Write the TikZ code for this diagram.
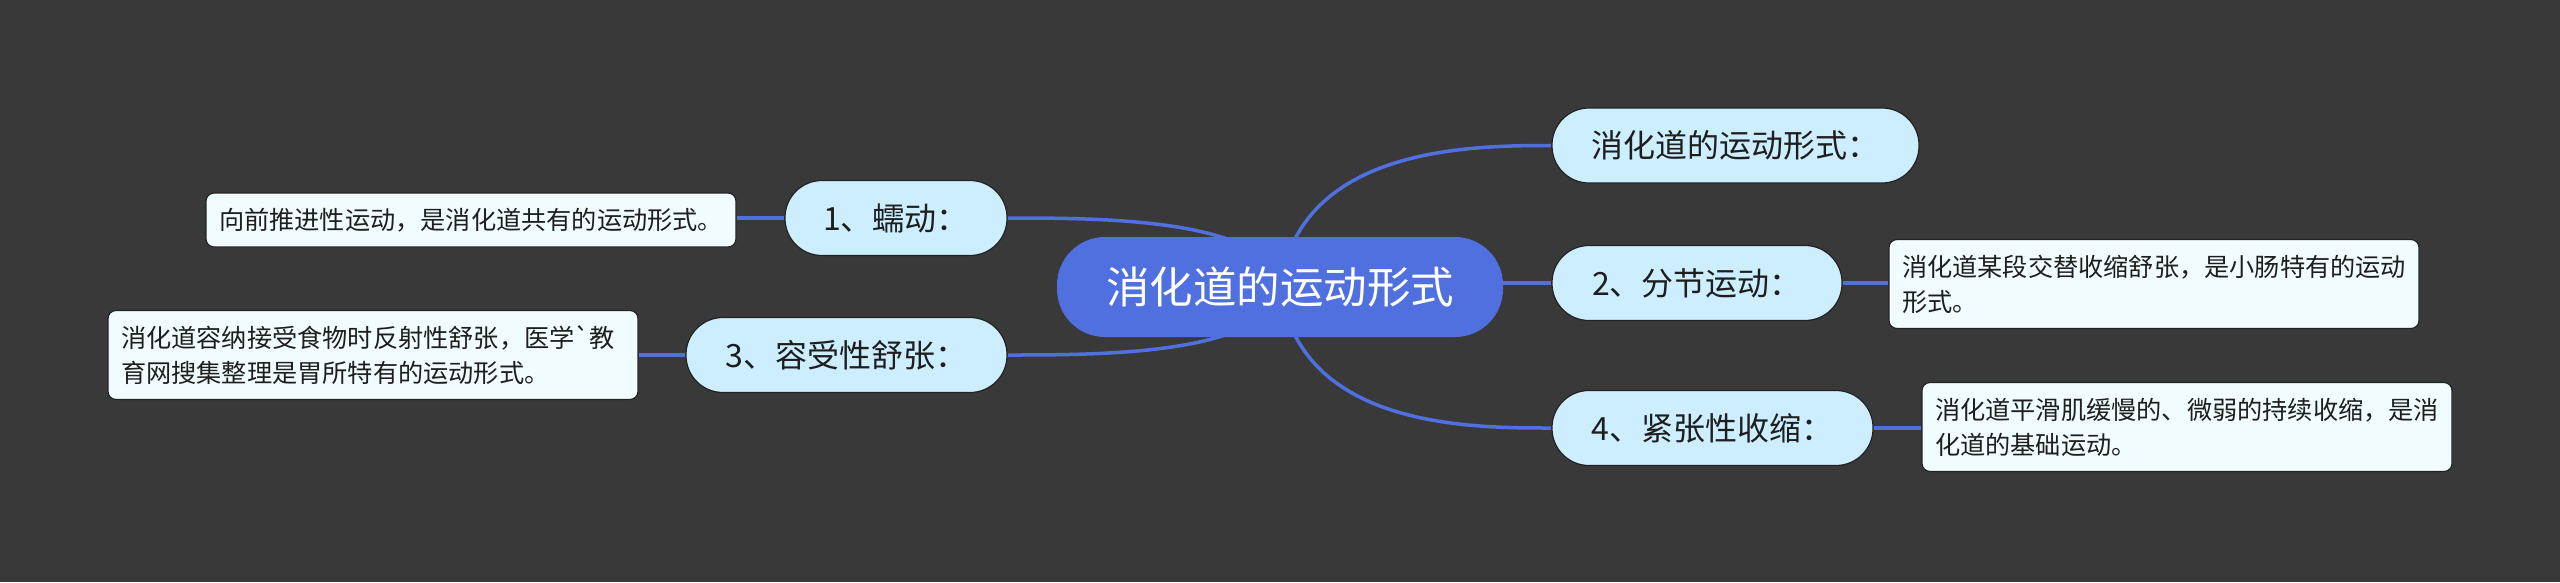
\documentclass[tikz,border=0pt]{standalone}
\usepackage{fontspec}
\newfontfamily\cjk{Noto Sans CJK SC}[Ligatures=TeXOff]
\usetikzlibrary{backgrounds}
\definecolor{bg}{RGB}{58,57,58}
\definecolor{rootfill}{RGB}{80,112,224}
\definecolor{linec}{RGB}{80,112,224}
\definecolor{subfill}{RGB}{204,238,255}
\definecolor{leaffill}{RGB}{240,252,255}
\definecolor{edgec}{RGB}{34,34,34}
\definecolor{txt}{RGB}{30,30,30}
\begin{document}
\begin{tikzpicture}[x=1pt,y=-1pt,
 rootnode/.style={fill=rootfill, rounded corners=48pt, minimum height=100pt, inner sep=0pt, text=white, font=\cjk\fontsize{43.5}{50}\selectfont},
 subnode/.style={fill=subfill, draw=edgec, line width=1.2pt, rounded corners=37pt, minimum height=75pt, inner sep=0pt, text=txt, font=\cjk\fontsize{32}{36}\selectfont},
 leafnode/.style={fill=leaffill, draw=edgec, line width=1.2pt, rounded corners=8pt, inner xsep=13pt, inner ysep=0pt, text width=504pt, align=left, text=txt, font=\cjk\fontsize{25.2}{35}\selectfont},
 link/.style={draw=linec, line width=3.5pt}]
\useasboundingbox (0,0) rectangle (2560,582);

\node[rootnode, minimum width=446pt] (root) at (1280,287) {消化道的运动形式};

\node[subnode, minimum width=367pt] (s0) at (1735.5,145.5) {消化道的运动形式：};
\node[subnode, minimum width=290pt] (s2) at (1697,283) {2、分节运动：};
\node[subnode, minimum width=321pt] (s4) at (1712.5,428) {4、紧张性收缩：};
\node[subnode, minimum width=222pt] (s1) at (896,218) {1、蠕动：};
\node[subnode, minimum width=321pt] (s3) at (846.5,355) {3、容受性舒张：};

\node[leafnode, minimum height=54pt] (l1) at (471,220) {向前推进性运动，是消化道共有的运动形式。};
\node[leafnode, minimum height=89pt] (l2) at (2154,284) {消化道某段交替收缩舒张，是小肠特有的运动\\形式。};
\node[leafnode, minimum height=89pt] (l3) at (373,355) {消化道容纳接受食物时反射性舒张，医学`教\\育网搜集整理是胃所特有的运动形式。};
\node[leafnode, minimum height=89pt] (l4) at (2187,427) {消化道平滑肌缓慢的、微弱的持续收缩，是消\\化道的基础运动。};

\begin{pgfonlayer}{background}
\fill[bg] (0,0) rectangle (2560,582);
\path[link] (root.center) .. controls +(20,-140) and +(-82,0) .. (s0.west);
\path[link] (root.center) .. controls +(20,141) and +(-82,0) .. (s4.west);
\path[link] (root.center |- s2.west) -- (s2.west);
\path[link] (root.center) .. controls +(-10,-69) and +(93,0) .. (s1.east);
\path[link] (root.center) .. controls +(-10,68) and +(93,0) .. (s3.east);
\path[link] (s1.west) -- (s1.west -| l1.east);
\path[link] (s3.west) -- (s3.west -| l3.east);
\path[link] (s2.east) -- (s2.east -| l2.west);
\path[link] (s4.east) -- (s4.east -| l4.west);
\end{pgfonlayer}
\end{tikzpicture}
\end{document}
